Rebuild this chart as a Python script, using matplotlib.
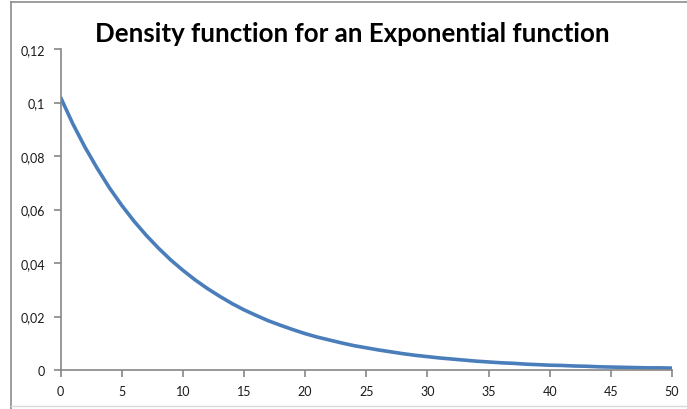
import matplotlib
matplotlib.use("Agg")
import matplotlib.pyplot as plt
from matplotlib.ticker import FuncFormatter
from matplotlib.lines import Line2D

# Exponential density sampled at integer x
x_values = list(range(0, 51))
density = [
    0.1020, 0.0921, 0.0833, 0.0754, 0.0681, 0.0616, 0.0557, 0.0504, 0.0456, 0.0412,
    0.0373, 0.0337, 0.0305, 0.0276, 0.0249, 0.0225, 0.0204, 0.0184, 0.0167, 0.0151,
    0.0136, 0.0123, 0.0112, 0.0101, 0.0091, 0.0083, 0.0075, 0.0068, 0.0061, 0.0055,
    0.0050, 0.0045, 0.0041, 0.0037, 0.0033, 0.0030, 0.0027, 0.0025, 0.0022, 0.0020,
    0.0018, 0.0017, 0.0015, 0.0014, 0.0012, 0.0011, 0.0010, 0.0009, 0.0008, 0.0008,
    0.0007,
]
x_ticks = [0, 5, 10, 15, 20, 25, 30, 35, 40, 45, 50]
y_ticks = [0, 0.02, 0.04, 0.06, 0.08, 0.10, 0.12]
title = "Density function for an Exponential function"

W, H = 687, 410
fig = plt.figure(figsize=(W / 100, H / 100), dpi=100)
fig.patch.set_facecolor("white")

# Outer chart frame
fig.add_artist(Line2D([10.5 / W, 10.5 / W], [0, 1 - 2.5 / H], transform=fig.transFigure,
                      color="#8c8c8c", lw=1.2))
fig.add_artist(Line2D([10.5 / W, 1], [1 - 2.5 / H, 1 - 2.5 / H], transform=fig.transFigure,
                      color="#8c8c8c", lw=1.2))
fig.add_artist(Line2D([10.5 / W, 1], [3 / H, 3 / H], transform=fig.transFigure,
                      color="#d9d9d9", lw=1.0))

left, right = 60.5 / W, 672 / W
bottom, top = (H - 371) / H, (H - 50) / H
ax = fig.add_axes([left, bottom, right - left, top - bottom])

ax.plot(x_values, density, color="#4a7ebb", lw=2.6, solid_capstyle="butt")

ax.set_xlim(0, 50)
ax.set_ylim(0, 0.12)
ax.set_xticks(x_ticks)
ax.set_yticks(y_ticks)

def comma_fmt(v, pos):
    if abs(v) < 1e-12:
        return "0"
    s = f"{v:.2f}".rstrip("0").rstrip(".")
    return s.replace(".", ",")

ax.yaxis.set_major_formatter(FuncFormatter(comma_fmt))
ax.xaxis.set_major_formatter(FuncFormatter(lambda v, p: f"{int(v)}"))

for side in ("top", "right"):
    ax.spines[side].set_visible(False)
for side in ("left", "bottom"):
    ax.spines[side].set_color("#868686")
    ax.spines[side].set_linewidth(1.2)

ax.tick_params(axis="both", direction="out", length=5, width=1.2, color="#868686",
               labelsize=9, labelcolor="#1a1a1a")
ax.tick_params(axis="y", pad=6)
ax.tick_params(axis="x", pad=6)
for lbl in ax.get_xticklabels() + ax.get_yticklabels():
    lbl.set_family("Lato")

fig.text(352 / W, 1 - 33.5 / H, title, ha="center", va="center",
         fontsize=18.6, fontweight="bold", family="Lato", color="black")

fig.savefig("out.png", dpi=100, facecolor="white")
